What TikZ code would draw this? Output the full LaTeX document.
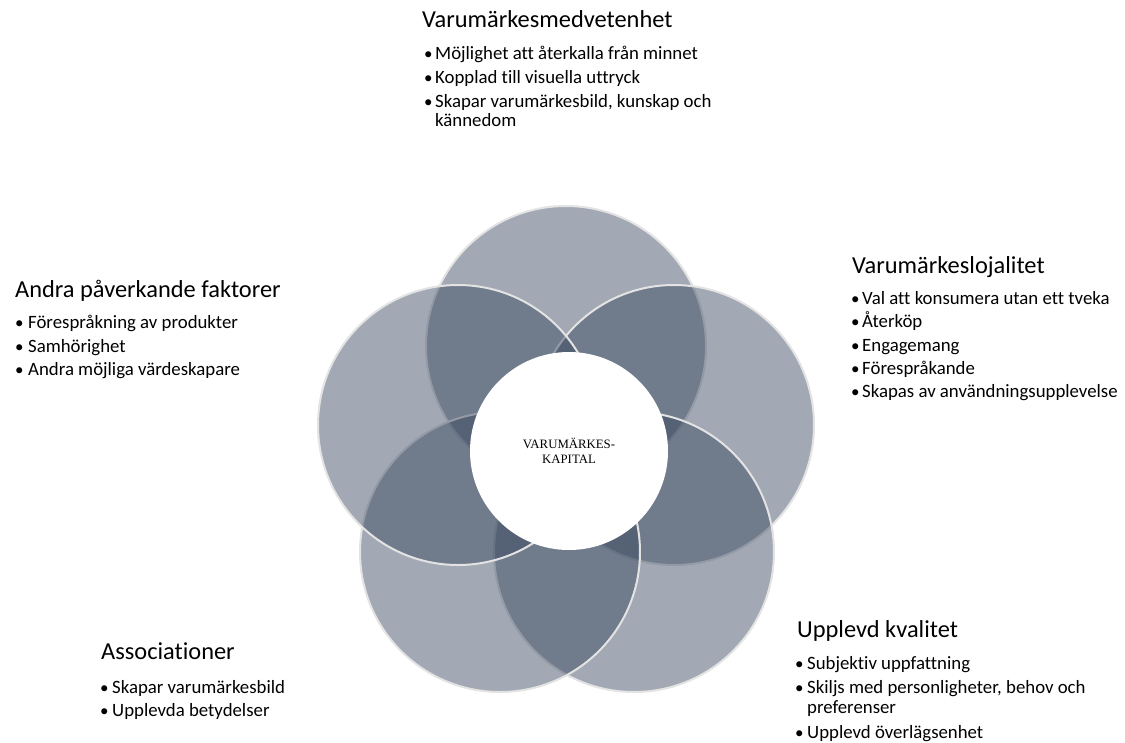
\documentclass[tikz,border=0pt]{standalone}
\usepackage{fontspec}
\setmainfont{Carlito}[Ligatures=NoCommon]
\newfontfamily\capserif{Liberation Serif}
\definecolor{vennfill}{RGB}{53,68,92}
\definecolor{ringgray}{RGB}{227,227,227}
\begin{document}
\begin{tikzpicture}[x=1pt, y=-1pt,
  venn/.style={circle, minimum size=280pt, inner sep=0pt, fill=vennfill,
    fill opacity=0.46, draw=ringgray, line width=2pt},
  core/.style={circle, minimum size=198pt, inner sep=0pt, fill=white,
    align=center, font=\capserif\fontsize{12.8}{15.5}\selectfont},
  heading/.style={anchor=base west, inner sep=0pt, font=\fontsize{24.4}{28}\selectfont},
  item/.style={anchor=base west, inner sep=0pt, font=\fontsize{18.8}{22}\selectfont},
  dot/.style={anchor=base west, inner sep=0pt, font=\fontsize{17}{20}\selectfont}]
\useasboundingbox (0,0) rectangle (1125,742);

% five overlapping circles, drawn clockwise from the top
\node[venn] (awareness) at (566,346) {};
\node[venn] (loyalty)   at (674,425) {};
\node[venn] (quality)   at (634,552) {};
\node[venn] (assoc)     at (500,552) {};
\node[venn] (other)     at (458,425) {};

% centre
\node[core] (equity) at (569,451) {VARUMÄRKES-\\KAPITAL};

% Varumärkesmedvetenhet
\node[heading] (h1) at (422,27) {Varumärkesmedvetenhet};
\node[dot] (d11) at (424,59) {\textbullet};
\node[item] (t11) at (435,59) {Möjlighet att återkalla från minnet};
\node[dot] (d12) at (424,83) {\textbullet};
\node[item] (t12) at (435,83) {Kopplad till visuella uttryck};
\node[dot] (d13) at (424,107) {\textbullet};
\node[item] (t13) at (435,107) {Skapar varumärkesbild, kunskap och};
\node[item] (t14) at (435,126) {kännedom};

% Andra påverkande faktorer
\node[heading] (h2) at (15,297) {Andra påverkande faktorer};
\node[dot] (d21) at (15,328) {\textbullet};
\node[item] (t21) at (28,328) {Förespråkning av produkter};
\node[dot] (d22) at (15,352) {\textbullet};
\node[item] (t22) at (28,352) {Samhörighet};
\node[dot] (d23) at (15,375) {\textbullet};
\node[item] (t23) at (28,375) {Andra möjliga värdeskapare};

% Varumärkeslojalitet
\node[heading] (h3) at (852,273) {Varumärkeslojalitet};
\node[dot] (d31) at (851,304) {\textbullet};
\node[item] (t31) at (862,304) {Val att konsumera utan ett tveka};
\node[dot] (d32) at (851,327) {\textbullet};
\node[item] (t32) at (862,327) {Återköp};
\node[dot] (d33) at (851,351) {\textbullet};
\node[item] (t33) at (862,351) {Engagemang};
\node[dot] (d34) at (851,374) {\textbullet};
\node[item] (t34) at (862,374) {Förespråkande};
\node[dot] (d35) at (851,397) {\textbullet};
\node[item] (t35) at (862,397) {Skapas av användningsupplevelse};

% Associationer
\node[heading] (h4) at (101,659) {Associationer};
\node[dot] (d41) at (100,693) {\textbullet};
\node[item] (t41) at (112,693) {Skapar varumärkesbild};
\node[dot] (d42) at (100,716) {\textbullet};
\node[item] (t42) at (112,716) {Upplevda betydelser};

% Upplevd kvalitet
\node[heading] (h5) at (797,637) {Upplevd kvalitet};
\node[dot] (d51) at (795,669) {\textbullet};
\node[item] (t51) at (807,669) {Subjektiv uppfattning};
\node[dot] (d52) at (795,693) {\textbullet};
\node[item] (t52) at (807,693) {Skiljs med personligheter, behov och};
\node[item] (t53) at (807,713) {preferenser};
\node[dot] (d54) at (795,738) {\textbullet};
\node[item] (t54) at (807,738) {Upplevd överlägsenhet};
\end{tikzpicture}
\end{document}
